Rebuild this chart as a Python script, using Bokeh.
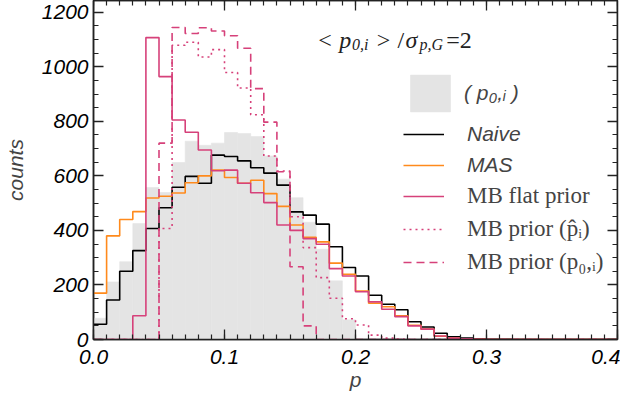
from bokeh.plotting import figure
from bokeh.models import (Range1d, LinearAxis, SingleIntervalTicker, PrintfTickFormatter,
                          Legend, LegendItem, Label)
from bokeh.embed import file_html
from bokeh.resources import INLINE

# ---------------- data ----------------
bin_edges = [0.00, 0.01, 0.02, 0.03, 0.04, 0.05, 0.06, 0.07, 0.08, 0.09,
             0.10, 0.11, 0.12, 0.13, 0.14, 0.15, 0.16, 0.17, 0.18, 0.19,
             0.20, 0.21, 0.22, 0.23, 0.24, 0.25, 0.26, 0.27, 0.28, 0.29,
             0.30, 0.31, 0.32, 0.33, 0.34, 0.35, 0.36, 0.37, 0.38, 0.39, 0.40]

p0_true = [78, 211, 285, 425, 557, 539, 649, 727, 712, 720,
           759, 755, 744, 673, 588, 520, 430, 331, 215, 72,
           0, 0, 0, 0, 0, 0, 0, 0, 0, 0,
           0, 0, 0, 0, 0, 0, 0, 0, 0, 0]

naive = [56, 145, 250, 326, 407, 483, 558, 598, 573, 676,
         671, 655, 630, 610, 566, 468, 456, 423, 340, 264,
         233, 162, 129, 109, 65, 46, 23, 10, 5, 3,
         1, 1, 0, 0, 0, 0, 0, 0, 0, 0]

mas = [170, 380, 440, 469, 519, 525, 537, 575, 600, 621,
       594, 573, 584, 535, 488, 420, 375, 358, 280, 239,
       178, 133, 120, 87, 52, 38, 12, 5, 3, 1,
       0, 0, 0, 0, 0, 0, 0, 0, 0, 0]

mb_flat = [0, 0, 0, 87, 1107, 964, 805, 760, 695, 619,
           621, 573, 538, 502, 420, 400, 370, 349, 260, 233,
           175, 138, 111, 84, 50, 38, 13, 5, 3, 1,
           0, 0, 0, 0, 0, 0, 0, 0, 0, 0]

mb_prior_phat = [0, 0, 0, 0, 0, 407, 1079, 1090, 1036, 1063,
                 979, 922, 824, 673, 618, 450, 337, 227, 151, 76,
                 53, 16, 5, 2, 0, 0, 0, 0, 0, 0,
                 0, 0, 0, 0, 0, 0, 0, 0, 0, 0]

mb_prior_p0 = [0, 0, 0, 0, 0, 720, 1144, 1122, 1143, 1131,
               1114, 1068, 920, 797, 615, 267, 50, 0, 0, 0,
               0, 0, 0, 0, 0, 0, 0, 0, 0, 0,
               0, 0, 0, 0, 0, 0, 0, 0, 0, 0]

x_range = (0.0, 0.4)
y_range = (0, 1243)
x_tick_interval = 0.1
y_tick_interval = 200

# ---------------- styles ----------------
GRAY = "#E4E4E4"
ORANGE = "#FF8A1C"
PINK = "#D6417A"
SANS = "Liberation Sans"
SERIF = "Liberation Serif"

FRAME_W = 529
p = figure(width=620, height=398,
           x_range=Range1d(*x_range), y_range=Range1d(*y_range),
           min_border_left=88, min_border_right=620 - 88 - FRAME_W, min_border_top=0,
           min_border_bottom=59,
           output_backend="svg", toolbar_location=None)
p.grid.visible = False
p.outline_line_color = "#222222"
p.outline_line_width = 1.5
p.background_fill_color = "white"
p.border_fill_color = "white"

def step_y(vals):
    return list(vals) + [vals[-1]]

r_gray = p.quad(left=bin_edges[:-1], right=bin_edges[1:], top=p0_true, bottom=0,
                fill_color=GRAY, line_color=GRAY, line_width=0.6)
r_naive = p.step(x=bin_edges, y=step_y(naive), mode="after", line_color="black", line_width=1.6)
r_mas = p.step(x=bin_edges, y=step_y(mas), mode="after", line_color=ORANGE, line_width=1.6)
r_flat = p.step(x=bin_edges, y=step_y(mb_flat), mode="after", line_color=PINK, line_width=1.6)
r_phat = p.step(x=bin_edges, y=step_y(mb_prior_phat), mode="after", line_color=PINK,
                line_width=1.6, line_dash="2 4")
r_p0 = p.step(x=bin_edges, y=step_y(mb_prior_p0), mode="after", line_color=PINK,
              line_width=1.6, line_dash="8 5")

# ---------------- axes ----------------
def style_axis(ax, show_labels):
    ax.axis_line_color = "#222222"
    ax.axis_line_width = 1.5
    ax.major_tick_in = 10
    ax.major_tick_out = 0
    ax.minor_tick_in = 5
    ax.minor_tick_out = 0
    ax.major_tick_line_color = "#222222"
    ax.minor_tick_line_color = "#222222"
    ax.major_tick_line_width = 1.3
    ax.minor_tick_line_width = 1.2
    if show_labels:
        ax.major_label_text_font = SANS
        ax.major_label_text_font_style = "italic"
        ax.major_label_text_font_size = "21px"
        ax.major_label_text_color = "black"
    else:
        ax.major_label_text_font_size = "0px"
        ax.major_label_standoff = 0
        ax.major_label_text_alpha = 0

xb = p.xaxis[0]
xb.ticker = SingleIntervalTicker(interval=x_tick_interval, num_minor_ticks=10)
xb.formatter = PrintfTickFormatter(format="%.1f")
style_axis(xb, True)
xb.major_label_standoff = 10
xb.axis_label = "p"
xb.axis_label_text_font = SANS
xb.axis_label_text_font_style = "italic"
xb.axis_label_text_font_size = "21px"
xb.axis_label_standoff = 1

yl = p.yaxis[0]
yl.ticker = SingleIntervalTicker(interval=y_tick_interval, num_minor_ticks=4)
style_axis(yl, True)
yl.major_label_standoff = 5
yl.axis_label = "counts"
yl.axis_label_text_font = SANS
yl.axis_label_text_font_style = "italic"
yl.axis_label_text_font_size = "21px"
yl.axis_label_standoff = 12

xt = LinearAxis(ticker=SingleIntervalTicker(interval=x_tick_interval, num_minor_ticks=10),
                fixed_location=y_range[1])
style_axis(xt, False)
p.add_layout(xt, "above")

yr = LinearAxis(ticker=SingleIntervalTicker(interval=y_tick_interval, num_minor_ticks=4),
                fixed_location=x_range[1])
style_axis(yr, False)
p.add_layout(yr, "right")

# ---------------- legends ----------------
leg_gray = Legend(items=[LegendItem(label="( p\u2080,\u1d62 )", renderers=[r_gray])],
                  location=(312, 223), glyph_width=50, glyph_height=46, label_height=46,
                  label_standoff=9, padding=0, margin=0, spacing=0,
                  border_line_color=None, background_fill_alpha=0,
                  label_text_font=SANS, label_text_font_style="italic",
                  label_text_font_size="21px")
leg_sans = Legend(items=[LegendItem(label="Naive", renderers=[r_naive]),
                         LegendItem(label="MAS", renderers=[r_mas])],
                  location=(310, 161), glyph_width=41, glyph_height=26, label_height=26,
                  label_standoff=23, padding=0, margin=0, spacing=5,
                  border_line_color=None, background_fill_alpha=0,
                  label_text_font=SANS, label_text_font_style="italic",
                  label_text_font_size="21px")
leg_serif = Legend(items=[LegendItem(label="MB flat prior", renderers=[r_flat]),
                          LegendItem(label="MB prior (p\u0302\u1d62)", renderers=[r_phat]),
                          LegendItem(label="MB prior (p\u2080,\u1d62)", renderers=[r_p0])],
                   location=(310, 64), glyph_width=41, glyph_height=26, label_height=26,
                   label_standoff=23, padding=0, margin=0, spacing=7,
                   border_line_color=None, background_fill_alpha=0,
                   label_text_font=SERIF, label_text_font_size="23px")
for lg in (leg_gray, leg_sans, leg_serif):
    p.add_layout(lg)

# ---------------- annotation  < p_{0,i} > / sigma_{p,G} = 2 ----------------
def px2x(px):
    return (px - 96) / (FRAME_W / 0.4)

def py2y(py):
    return (347 - py) / 0.2728

pieces = [
    ("<", 323, 47, "24px", "normal"),
    ("p", 344, 47, "24px", "italic"),
    ("0,i", 357, 52, "16px", "italic"),
    (">", 382, 47, "24px", "normal"),
    ("/", 403, 47, "24px", "normal"),
    ("\u03c3", 411, 47, "24px", "italic"),
    ("p,G", 425, 52, "16px", "italic"),
    ("=2", 452, 47, "24px", "normal"),
]
for txt, px, py, size, style in pieces:
    p.add_layout(Label(x=px2x(px), y=py2y(py), text=txt, text_font=SERIF,
                       text_font_size=size, text_font_style=style,
                       text_align="left", text_baseline="alphabetic",
                       text_color="#222222"))

open("out.html", "w").write(file_html(p, INLINE))
